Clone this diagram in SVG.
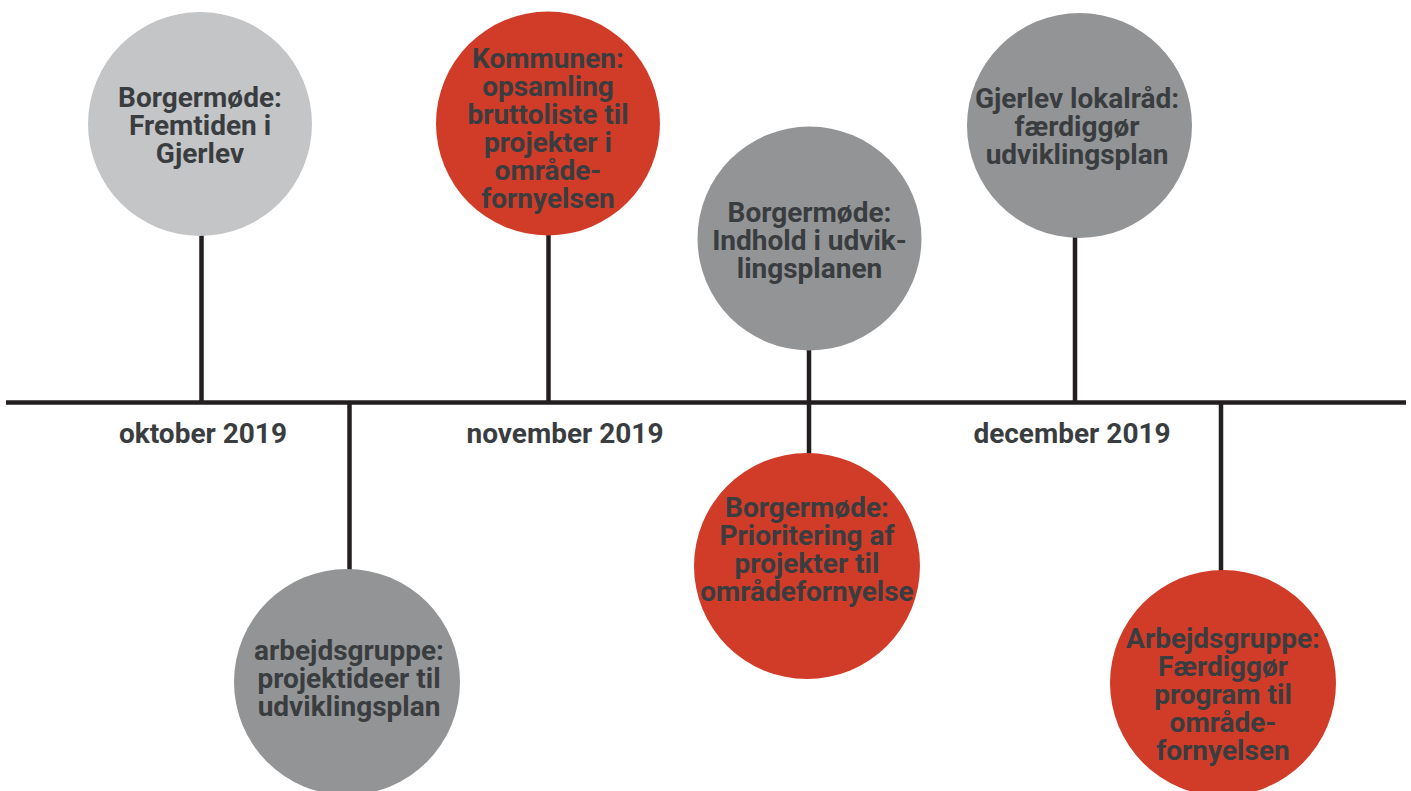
<svg xmlns="http://www.w3.org/2000/svg" width="1411" height="791" viewBox="0 0 1411 791">
<style>
.t{font-family:Roboto,"Liberation Sans",sans-serif;font-weight:700;font-size:28px;fill:#3a3d40;text-anchor:middle}
.l{font-family:Roboto,"Liberation Sans",sans-serif;font-weight:700;font-size:28px;fill:#3a3d40;text-anchor:middle}
.c{stroke:#231f20;stroke-width:4.5;fill:none}
.lg{fill:#c4c5c7}.g{fill:#939495}.r{fill:#d13c28}
</style>
<rect width="1411" height="791" fill="#fff"/>
<g id="connectors">
<line class="c" x1="6" y1="402.5" x2="1406" y2="402.5"/>
<line class="c" x1="201.5" y1="230" x2="201.5" y2="402"/>
<line class="c" x1="548.5" y1="230" x2="548.5" y2="402"/>
<line class="c" x1="809" y1="345" x2="809" y2="458"/>
<line class="c" x1="1075" y1="233" x2="1075" y2="402"/>
<line class="c" x1="349.5" y1="403" x2="349.5" y2="575"/>
<line class="c" x1="1221" y1="403" x2="1221" y2="575"/>
</g>
<g id="labels">
<text class="l" x="203" y="443">oktober 2019</text>
<text class="l" x="565" y="443">november 2019</text>
<text class="l" x="1072" y="443">december 2019</text>
</g>
<g id="n1"><circle class="lg" cx="200" cy="124" r="112"/>
<text class="t" x="200" y="107">Borgermøde:</text><text class="t" x="200" y="135">Fremtiden i</text><text class="t" x="200" y="163">Gjerlev</text></g>
<g id="n2"><circle class="r" cx="548" cy="123.5" r="112"/>
<text class="t" x="548" y="68">Kommunen:</text><text class="t" x="548" y="96">opsamling</text><text class="t" x="548" y="124">bruttoliste til</text><text class="t" x="548" y="152">projekter i</text><text class="t" x="548" y="180">område-</text><text class="t" x="548" y="208">fornyelsen</text></g>
<g id="n3"><circle class="g" cx="809.5" cy="238.5" r="112"/>
<text class="t" x="809.5" y="222">Borgermøde:</text><text class="t" x="809.5" y="250">Indhold i udvik-</text><text class="t" x="809.5" y="278">lingsplanen</text></g>
<g id="n4"><circle class="g" cx="1079.5" cy="125.5" r="112.5"/>
<text class="t" x="1077" y="108">Gjerlev lokalråd:</text><text class="t" x="1077" y="136">færdiggør</text><text class="t" x="1077" y="164">udviklingsplan</text></g>
<g id="n5"><circle class="g" cx="347" cy="682" r="113"/>
<text class="t" x="349" y="660">arbejdsgruppe:</text><text class="t" x="349" y="688">projektideer til</text><text class="t" x="349" y="716">udviklingsplan</text></g>
<g id="n6"><circle class="r" cx="807" cy="566" r="113"/>
<text class="t" x="807" y="517">Borgermøde:</text><text class="t" x="807" y="545">Prioritering af</text><text class="t" x="807" y="573">projekter til</text><text class="t" x="807" y="601">områdefornyelse</text></g>
<g id="n7"><circle class="r" cx="1223" cy="683" r="113"/>
<text class="t" x="1223" y="648">Arbejdsgruppe:</text><text class="t" x="1223" y="676">Færdiggør</text><text class="t" x="1223" y="704">program til</text><text class="t" x="1223" y="732">område-</text><text class="t" x="1223" y="760">fornyelsen</text></g>
</svg>
